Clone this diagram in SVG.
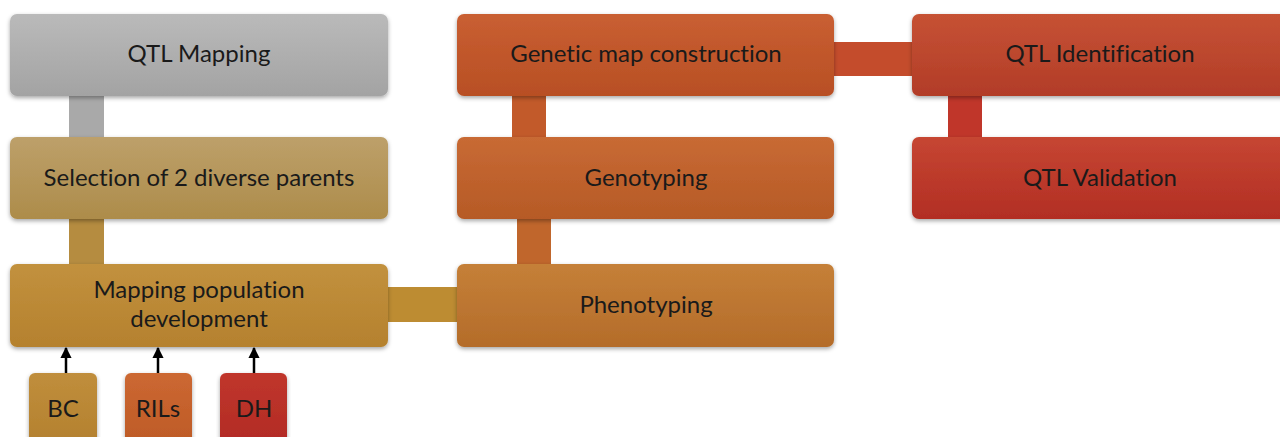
<svg xmlns="http://www.w3.org/2000/svg" width="1280" height="437" viewBox="0 0 1280 437">
<defs>
<filter id="sh" x="-5%" y="-10%" width="110%" height="130%">
<feDropShadow dx="0" dy="2" stdDeviation="2" flood-color="#000" flood-opacity="0.35"/>
</filter>
<linearGradient id="gGray" x1="0" y1="0" x2="0" y2="1"><stop offset="0" stop-color="#bababa"/><stop offset="1" stop-color="#a3a3a3"/></linearGradient>
<linearGradient id="gSel" x1="0" y1="0" x2="0" y2="1"><stop offset="0" stop-color="#bda06a"/><stop offset="1" stop-color="#ad8c4a"/></linearGradient>
<linearGradient id="gPop" x1="0" y1="0" x2="0" y2="1"><stop offset="0" stop-color="#c2913e"/><stop offset="1" stop-color="#b5812e"/></linearGradient>
<linearGradient id="gBC" x1="0" y1="0" x2="0" y2="1"><stop offset="0" stop-color="#c08e3c"/><stop offset="1" stop-color="#b3802e"/></linearGradient>
<linearGradient id="gRIL" x1="0" y1="0" x2="0" y2="1"><stop offset="0" stop-color="#cc6832"/><stop offset="1" stop-color="#bd5a26"/></linearGradient>
<linearGradient id="gDH" x1="0" y1="0" x2="0" y2="1"><stop offset="0" stop-color="#c0362c"/><stop offset="1" stop-color="#b12a24"/></linearGradient>
<linearGradient id="gMap" x1="0" y1="0" x2="0" y2="1"><stop offset="0" stop-color="#c95f32"/><stop offset="1" stop-color="#b84f24"/></linearGradient>
<linearGradient id="gGeno" x1="0" y1="0" x2="0" y2="1"><stop offset="0" stop-color="#c86a34"/><stop offset="1" stop-color="#b65a26"/></linearGradient>
<linearGradient id="gPheno" x1="0" y1="0" x2="0" y2="1"><stop offset="0" stop-color="#c58038"/><stop offset="1" stop-color="#b46c2a"/></linearGradient>
<linearGradient id="gQID" x1="0" y1="0" x2="0" y2="1"><stop offset="0" stop-color="#c65234"/><stop offset="1" stop-color="#b23c28"/></linearGradient>
<linearGradient id="gQV" x1="0" y1="0" x2="0" y2="1"><stop offset="0" stop-color="#c64632"/><stop offset="1" stop-color="#b22e24"/></linearGradient>
<marker id="ah" viewBox="0 0 10 10" refX="9" refY="5" markerWidth="4.5" markerHeight="4.5" orient="auto">
<path d="M0,0 L10,5 L0,10 z" fill="#000"/>
</marker>
</defs>
<style>
.box{filter:url(#sh)}
.t{font-family:Lato,"Open Sans","Liberation Sans",sans-serif;font-size:24px;fill:#1a1a1a;text-anchor:middle;font-variant-ligatures:none}
.arr{stroke:#000;stroke-width:2.5;fill:none;marker-end:url(#ah)}
</style>
<rect width="1280" height="437" fill="#fff"/>
<g id="connectors">
<rect x="69" y="92" width="35" height="50" fill="#a9a9a9"/>
<rect x="69" y="215" width="35" height="54" fill="#b58c40"/>
<rect x="384" y="287" width="78" height="35" fill="#bd8c32"/>
<rect x="512" y="92" width="34" height="50" fill="#c25a2a"/>
<rect x="517" y="215" width="34" height="54" fill="#c0662c"/>
<rect x="830" y="42" width="86" height="34" fill="#c44c2c"/>
<rect x="948" y="92" width="34" height="50" fill="#c0362a"/>
<line class="arr" x1="66" y1="373" x2="66" y2="348"/>
<line class="arr" x1="158" y1="373" x2="158" y2="348"/>
<line class="arr" x1="254" y1="373" x2="254" y2="348"/>
</g>
<g id="qtl-mapping"><rect class="box" x="10" y="14" width="378" height="82" rx="7" fill="url(#gGray)"/><text class="t" x="199" y="62">QTL Mapping</text></g>
<g id="selection"><rect class="box" x="10" y="137" width="378" height="82" rx="7" fill="url(#gSel)"/><text class="t" x="199" y="186">Selection of 2 diverse parents</text></g>
<g id="population"><rect class="box" x="10" y="264" width="378" height="83" rx="7" fill="url(#gPop)"/><text class="t" x="199" y="298">Mapping population</text><text class="t" x="199" y="327">development</text></g>
<g id="bc"><rect class="box" x="29" y="373" width="68" height="75" rx="6" fill="url(#gBC)"/><text class="t" x="63" y="417">BC</text></g>
<g id="rils"><rect class="box" x="125" y="373" width="67" height="75" rx="6" fill="url(#gRIL)"/><text class="t" x="158" y="417">RILs</text></g>
<g id="dh"><rect class="box" x="220" y="373" width="67" height="75" rx="6" fill="url(#gDH)"/><text class="t" x="254" y="417">DH</text></g>
<g id="genetic-map"><rect class="box" x="457" y="14" width="377" height="82" rx="7" fill="url(#gMap)"/><text class="t" x="646" y="62">Genetic map construction</text></g>
<g id="genotyping"><rect class="box" x="457" y="137" width="377" height="82" rx="7" fill="url(#gGeno)"/><text class="t" x="646" y="186">Genotyping</text></g>
<g id="phenotyping"><rect class="box" x="457" y="264" width="377" height="83" rx="7" fill="url(#gPheno)"/><text class="t" x="646" y="313">Phenotyping</text></g>
<g id="qtl-identification"><rect class="box" x="912" y="14" width="380" height="82" rx="7" fill="url(#gQID)"/><text class="t" x="1100" y="62">QTL Identification</text></g>
<g id="qtl-validation"><rect class="box" x="912" y="137" width="380" height="82" rx="7" fill="url(#gQV)"/><text class="t" x="1100" y="186">QTL Validation</text></g>
</svg>
